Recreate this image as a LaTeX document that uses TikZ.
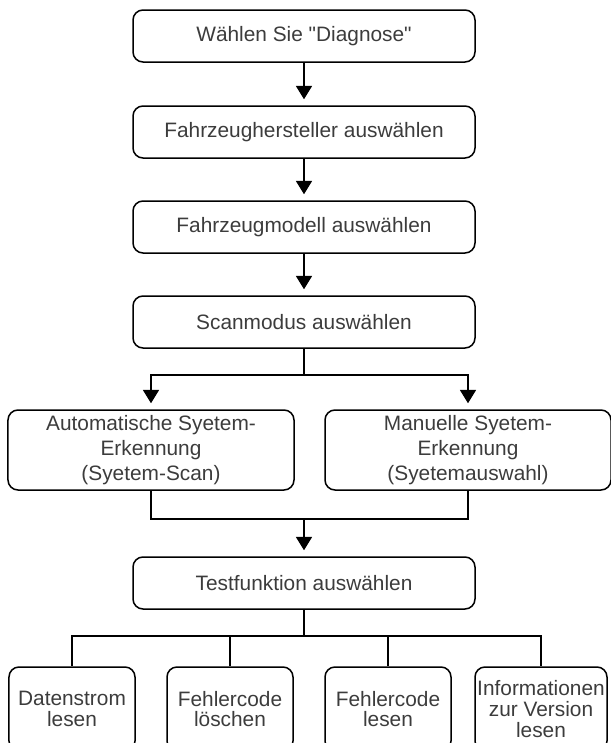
\documentclass[tikz,border=0pt]{standalone}
\usepackage{fontspec}
\setmainfont{Liberation Sans}
\usetikzlibrary{calc}
\usetikzlibrary{arrows.meta}
\definecolor{txt}{HTML}{3C3C3C}

\begin{document}
\begin{tikzpicture}[x=0.3mm,y=-0.3mm,
  box/.style={draw,line width=0.45mm,rounded corners=3mm,inner sep=0pt,align=center,text=txt,
    font=\fontsize{17.8}{21.3}\selectfont},
  wide/.style={box,minimum width=102.6mm,minimum height=15.6mm},
  half/.style={box,minimum width=85.8mm,minimum height=24mm},
  leaf/.style={box,minimum width=37.8mm,minimum height=25.2mm,font=\fontsize{17.8}{17.8}\selectfont},
  line/.style={draw,line width=0.45mm},
  flow/.style={line,-{Triangle[width=4.8mm,length=4mm]},shorten >=1.8mm}]
\useasboundingbox (0,0) rectangle (610,743);
\node (D) at (304,36) [wide] {Wählen Sie \textquotedbl Diagnose\textquotedbl};
\node (H) at (304,132) [wide] {Fahrzeughersteller auswählen};
\node (M) at (304,227) [wide] {Fahrzeugmodell auswählen};
\node (S) at (304,322) [wide] {Scanmodus auswählen};
\node (AS) at (151,450) [half] {Automatische Syetem-\\Erkennung\\(Syetem-Scan)};
\node (MS) at (468,450) [half] {Manuelle Syetem-\\Erkennung\\(Syetemauswahl)};
\node (T) at (304,583) [wide] {Testfunktion auswählen};
\node (T1) at (72,709) [leaf] {Datenstrom\\lesen};
\node (T2) at (230,709) [leaf] {Fehlercode\\löschen};
\node (T3) at (388,709) [leaf] {Fehlercode\\lesen};
\node (T4) at (541,709) [leaf,minimum width=39.6mm] {Informationen\\zur Version\\lesen};
\draw [flow] (D) -- (H);
\draw [flow] (H) -- (M);
\draw [flow] (M) -- (S);
\coordinate (s1) at ($(S.south)+(0,26)$);
\draw [line] (S) -- (s1);
\draw [flow] (s1) -| (AS);
\draw [flow] (s1) -| (MS);
\coordinate (m1) at (304,519);
\draw [line] (AS) |- (m1) -| (MS);
\draw [flow] (m1) -- (T);
\coordinate (t0) at ($(T.south)+(0,26)$);
\draw [line] (T) -- (t0);
\foreach \n in {T1,T2,T3,T4}
  \draw [line] (t0) -| (\n);
\end{tikzpicture}
\end{document}
